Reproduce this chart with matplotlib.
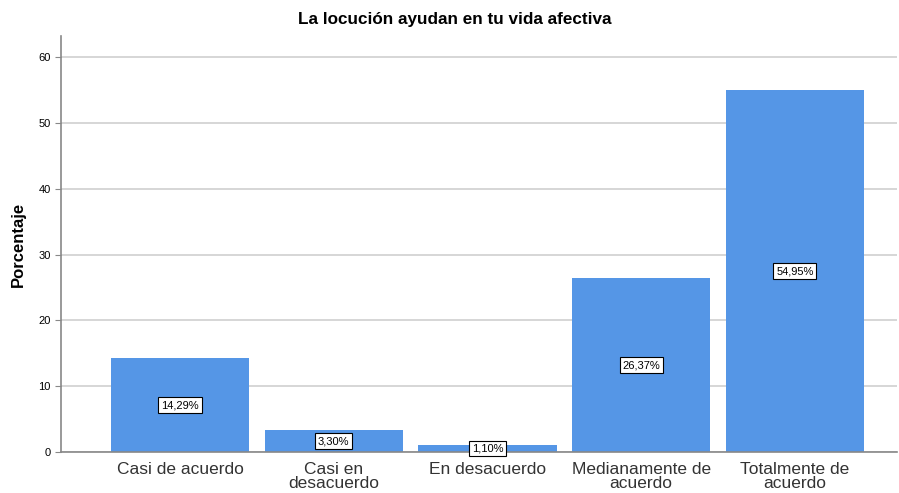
import numpy as np
import matplotlib.pyplot as plt

plt.rcParams['font.family'] = ['Liberation Sans', 'DejaVu Sans']

categories = ['Casi de acuerdo', 'Casi en\ndesacuerdo', 'En desacuerdo',
              'Medianamente de\nacuerdo', 'Totalmente de\nacuerdo']
values = [14.29, 3.30, 1.10, 26.37, 54.95]
labels = ['14,29%', '3,30%', '1,10%', '26,37%', '54,95%']

fig = plt.figure(figsize=(8.99, 4.93), dpi=100)
ax = fig.add_axes([0.068, 0.083, 0.930, 0.844])

x = np.arange(len(categories))
ax.bar(x, values, width=0.9, color='#5596e6', zorder=2)

for xi, v, lab in zip(x, values, labels):
    ax.text(xi, v / 2, lab, ha='center', va='center', fontsize=8, zorder=3,
            bbox=dict(boxstyle='square,pad=0.25', fc='white', ec='black', lw=0.8))

ax.set_xlim(-0.774, 4.666)
ax.set_ylim(0, 63.2)
ax.set_yticks([0, 10, 20, 30, 40, 50, 60])
ax.yaxis.grid(True, color='#d0d0d0', lw=1.2, zorder=0)
ax.set_xticks(x)
ax.set_xticklabels(categories, fontsize=12.5, color='#333333', linespacing=0.9)
ax.tick_params(axis='x', length=0, pad=7)
ax.tick_params(axis='y', length=4, labelsize=8, color='#888888')

for s in ['top', 'right']:
    ax.spines[s].set_visible(False)
for s in ['left', 'bottom']:
    ax.spines[s].set_color('#888888')
    ax.spines[s].set_linewidth(1.2)

ax.set_ylabel('Porcentaje', fontsize=12, fontweight='bold', labelpad=9)
fig.text(0.506, 0.961, 'La locución ayudan en tu vida afectiva', fontsize=12.3,
         fontweight='bold', ha='center', va='center')

fig.savefig('out.png', dpi=100)
